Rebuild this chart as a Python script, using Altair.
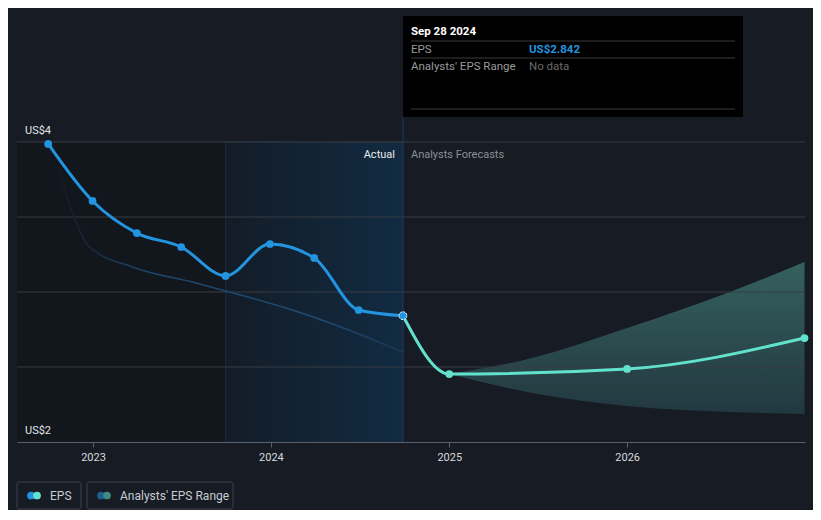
import altair as alt
import pandas as pd

# ---------------- data ----------------
eps_dates = ["2022-10-01", "2022-12-31", "2023-04-01", "2023-07-01", "2023-09-30",
             "2023-12-30", "2024-03-30", "2024-06-29", "2024-09-28"]
eps_values = [3.987, 3.607, 3.393, 3.30, 3.107, 3.32, 3.227, 2.88, 2.842]

fc_dates = ["2024-09-28", "2025-01-01", "2026-01-01", "2026-12-31"]
fc_values = [2.842, 2.453, 2.487, 2.693]

band_dates = ["2025-01-01", "2025-06-20", "2026-01-01", "2026-07-31", "2026-12-31"]
band_low = [2.453, 2.327, 2.24, 2.20, 2.187]
band_high = [2.453, 2.56, 2.76, 3.00, 3.20]

past_dates = ["2022-10-20", "2022-12-25", "2023-03-23", "2023-07-31", "2023-10-08",
              "2024-02-14", "2024-05-29", "2024-09-28"]
past_values = [3.847, 3.30, 3.167, 3.06, 3.0, 2.88, 2.76, 2.60]

year_ticks = [2023, 2024, 2025, 2026]
y_ticks = [2.5, 3.0, 3.5, 4.0]
y_labels = [4.0, 2.0]
y_label_text = ["US$4", "US$2"]

region_start = ["2022-07-29", "2023-09-30"]
region_end = ["2023-09-30", "2024-09-28"]
region_kind = ["past", "lastyear"]

tooltip_date = "Sep 28 2024"
tooltip_eps = "US$2.842"

# ---------------- frames ----------------
eps_df = pd.DataFrame({"date": eps_dates, "v": eps_values})
fc_df = pd.DataFrame({"date": fc_dates, "v": fc_values})
band_df = pd.DataFrame({"date": band_dates, "lo": band_low, "hi": band_high})
past_df = pd.DataFrame({"date": past_dates, "v": past_values})
reg_df = pd.DataFrame({"s": region_start, "e": region_end, "k": region_kind,
                       "top": [4.0, 4.0], "bot": [2.0, 2.0]})
ylab_df = pd.DataFrame({"v": y_labels, "t": y_label_text})
grid_df = pd.DataFrame({"v": y_ticks})

BG = "#161b24"
FONT = "Roboto"

xscale = alt.Scale(type="utc",
                   domain=[alt.DateTime(year=2022, month=7, date=29, utc=True),
                           alt.DateTime(year=2027, month=1, date=1, utc=True)])
yscale = alt.Scale(domain=[2.0, 4.84], nice=False, zero=False)

axX = alt.Axis(values=[alt.DateTime(year=y, month=1, date=1, utc=True) for y in year_ticks],
               labelExpr="utcFormat(datum.value, '%Y')",
               title=None, grid=False, domainColor="#5a6069", tickColor="#5a6069",
               tickSize=5, labelColor="#d6d9dc", labelFontSize=11, labelFont=FONT,
               labelPadding=4, zindex=1)
axY = alt.Axis(grid=False, labels=False, ticks=False, domain=False, title=None)

X = lambda f: alt.X(f"{f}:T", scale=xscale, axis=axX)
Y = lambda f: alt.Y(f"{f}:Q", scale=yscale, axis=axY)

past_rect = alt.Chart(reg_df).transform_filter("datum.k == 'past'").mark_rect(
    color="#12161d").encode(x=X("s"), x2="e:T", y=Y("top"), y2="bot:Q")

last_rect = alt.Chart(reg_df).transform_filter("datum.k == 'lastyear'").mark_rect(
    color=alt.Gradient(gradient="linear", x1=0, y1=0, x2=1, y2=0,
                       stops=[alt.GradientStop(color="#131c27", offset=0),
                              alt.GradientStop(color="#122b42", offset=1)]),
    stroke="#1a2a3a", strokeWidth=1).encode(x=X("s"), x2="e:T", y=Y("top"), y2="bot:Q")

grid = alt.Chart(grid_df).mark_rule(color="#363c45", strokeWidth=1).encode(
    y=Y("v"), x=alt.value(0), x2=alt.value(788))

band = alt.Chart(band_df).mark_area(
    interpolate="monotone",
    color=alt.Gradient(gradient="linear", x1=0, y1=0, x2=0, y2=1,
                       stops=[alt.GradientStop(color="#35615e", offset=0),
                              alt.GradientStop(color="#223840", offset=1)]),
).encode(x=X("date"), y=Y("hi"), y2="lo:Q")

past_line = alt.Chart(past_df).mark_line(
    interpolate="monotone", strokeWidth=1.5,
    color=alt.Gradient(gradient="linear", x1=0, y1=0, x2=1, y2=0,
                       stops=[alt.GradientStop(color="#141a24", offset=0),
                              alt.GradientStop(color="#1d4569", offset=0.25),
                              alt.GradientStop(color="#1f4c73", offset=0.75),
                              alt.GradientStop(color="#1a3654", offset=1)]),
).encode(x=X("date"), y=Y("v"))

eps_line = alt.Chart(eps_df).mark_line(
    interpolate="monotone", color="#2394df", strokeWidth=3
).encode(x=X("date"), y=Y("v"))

fc_line = alt.Chart(fc_df).mark_line(
    interpolate="monotone", color="#62e2cd", strokeWidth=3
).encode(x=X("date"), y=Y("v"))

eps_pts = alt.Chart(eps_df.iloc[:-1]).mark_circle(size=60, color="#2394df", opacity=1).encode(
    x=X("date"), y=Y("v"))
last_pt = alt.Chart(eps_df.iloc[-1:]).mark_point(
    size=60, filled=True, fill="#2394df", stroke="white", strokeWidth=1,
    strokeDash=[2, 1], opacity=1).encode(x=X("date"), y=Y("v"))
fc_pts = alt.Chart(fc_df.iloc[1:]).mark_circle(size=60, color="#62e2cd", opacity=1).encode(
    x=X("date"), y=Y("v"))

vline = alt.Chart(eps_df.iloc[-1:]).mark_rule(color="#1e3d5c", strokeWidth=1).encode(
    x=X("date"), y=alt.value(101), y2=alt.value(426))

ylabels = alt.Chart(ylab_df).mark_text(
    align="left", baseline="middle", dy=-11, font=FONT, fontSize=11, color="#e3e5e8"
).encode(x=alt.value(8), y=Y("v"), text="t:N")

sec_actual = alt.Chart(eps_df.iloc[-1:]).mark_text(
    align="right", baseline="middle", dx=-8, font=FONT, fontSize=11, color="#e8eaec"
).encode(x=X("date"), y=alt.value(139), text=alt.value("Actual"))
sec_fc = alt.Chart(eps_df.iloc[-1:]).mark_text(
    align="left", baseline="middle", dx=8, font=FONT, fontSize=11, color="#8b9097"
).encode(x=X("date"), y=alt.value(139), text=alt.value("Analysts Forecasts"))

# tooltip box
tip_box = alt.Chart(eps_df.iloc[-1:]).mark_rect(color="#000000").encode(
    x=alt.value(386), x2=alt.value(726), y=alt.value(0), y2=alt.value(101))
tip_lines = [
    alt.Chart(eps_df.iloc[-1:]).mark_rule(color="#3b3b3b", strokeWidth=1).encode(
        x=alt.value(394), x2=alt.value(718), y=alt.value(yy))
    for yy in (25, 42, 93)
]
def tiptext(txt, x, y, color, bold=False):
    return alt.Chart(eps_df.iloc[-1:]).mark_text(
        align="left", baseline="middle", font=FONT, fontSize=11.5,
        fontWeight="bold" if bold else "normal", color=color
    ).encode(x=alt.value(x), y=alt.value(y), text=alt.value(txt))

tips = [
    tiptext(tooltip_date, 394, 16, "#ffffff", True),
    tiptext("EPS", 394, 34, "#9a9a9a"),
    tiptext(tooltip_eps, 512, 34, "#2394df", True),
    tiptext("Analysts' EPS Range", 394, 51, "#9a9a9a"),
    tiptext("No data", 512, 51, "#6a6a6a"),
]

# legend
def legbox(x0, x1):
    return alt.Chart(eps_df.iloc[-1:]).mark_rect(
        fill=BG, stroke="#3d434c", strokeWidth=1, cornerRadius=2).encode(
        x=alt.value(x0), x2=alt.value(x1), y=alt.value(466), y2=alt.value(493))
def legdot(x, color):
    return alt.Chart(eps_df.iloc[-1:]).mark_circle(size=60, color=color, opacity=1).encode(
        x=alt.value(x), y=alt.value(479.5))
def legtext(x, txt):
    return alt.Chart(eps_df.iloc[-1:]).mark_text(
        align="left", baseline="middle", font=FONT, fontSize=12, color="#c9ccd0").encode(
        x=alt.value(x), y=alt.value(479.5), text=alt.value(txt))

legend = [
    legbox(0, 64), legdot(14, "#2394df"), legdot(20, "#62e2cd"), legtext(33, "EPS"),
    legbox(70, 216), legdot(84, "#1f5f8c"), legdot(90, "#3d8a84"), legtext(103, "Analysts' EPS Range"),
]

chart = alt.layer(
    past_rect, last_rect, band, grid, past_line, vline, eps_line, fc_line,
    eps_pts, fc_pts, last_pt, ylabels, sec_actual, sec_fc,
    tip_box, *tip_lines, *tips, *legend
).properties(
    width=788, height=426, background=BG,
    padding={"left": 9, "top": 8, "right": 8, "bottom": 68},
    autosize=alt.AutoSizeParams(type="none"),
).configure_view(stroke=None)

chart.save("out.html", embed_options={"renderer": "svg", "actions": False})
